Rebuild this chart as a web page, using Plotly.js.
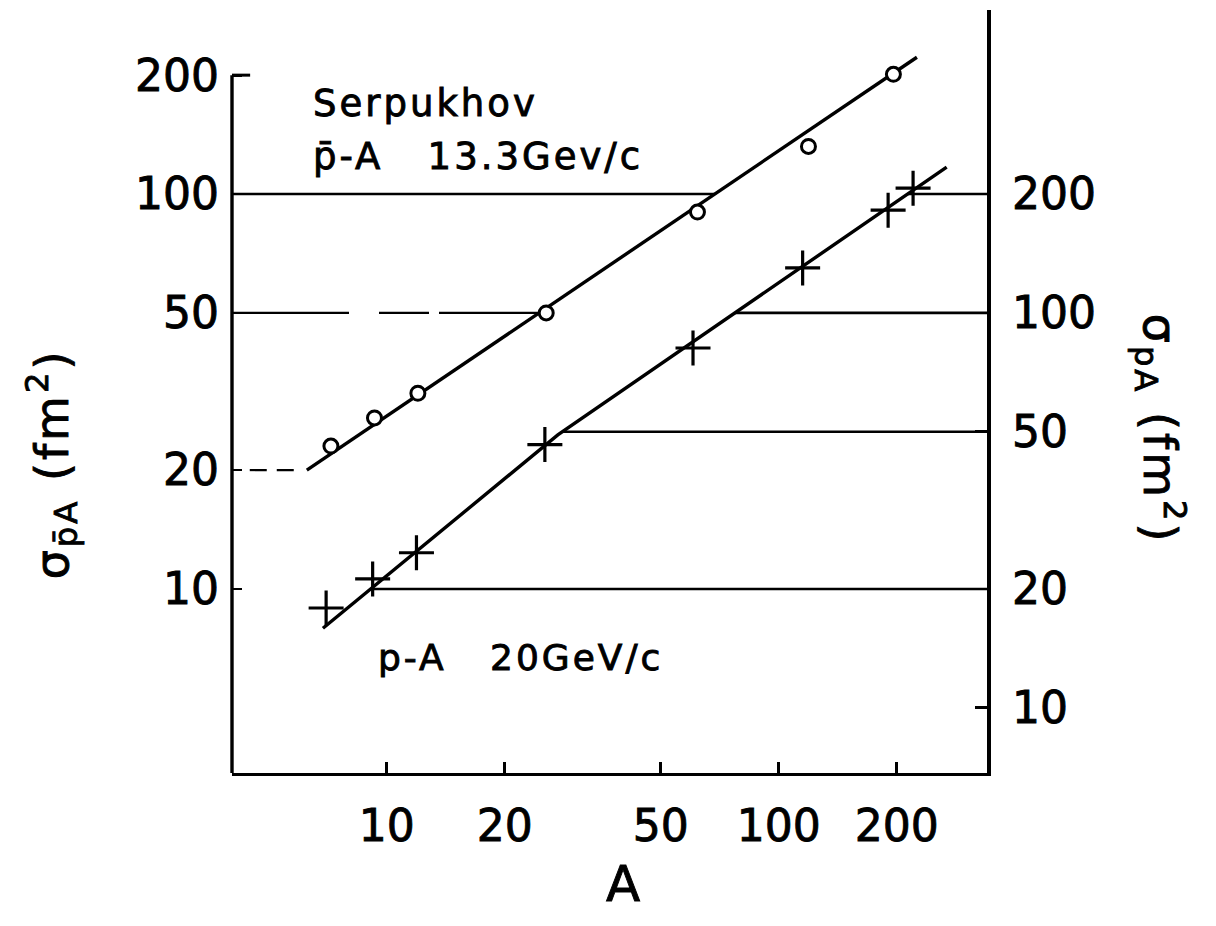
<!DOCTYPE html>
<html>
<head>
<meta charset="utf-8">
<script src="https://cdn.plot.ly/plotly-3.0.1.min.js"></script>
<style>
html,body{margin:0;padding:0;background:#fff;}
#chart{width:1216px;height:926px;}
.annotation-text{letter-spacing:3px;stroke:#000;stroke-width:0.9px;}
.xtick text,.ytick text,.y2tick text{stroke:#000;stroke-width:0.9px;}
</style>
</head>
<body>
<div id="chart"></div>
<script>
// ---- data ----
// antiproton-nucleus (open circles, left axis)
const A_pbar = [7.2, 9.3, 12.0, 25.5, 62, 119, 196];
const sigma_pbar = [23.0, 27.1, 31.3, 50.0, 90, 132, 201];
// hand-drawn line through the antiproton data (points along it)
const fitA_pbar = [6.25, 225];
const fitSigma_pbar = [20.0, 222];

// proton-nucleus (crosses, right axis)
const A_p = [7.0, 9.2, 11.9, 25.3, 60.4, 115, 190, 220];
const sigma_p = [17.9, 21.2, 24.7, 46.4, 81.5, 130, 182, 207];
// hand-drawn line through the proton data (points along it)
const fitA_p = [6.87, 27.3, 268];
const fitSigma_p = [15.9, 49.1, 234];

// tick values
const xTicks = [10, 20, 50, 100, 200];
const yLeftTicks = [10, 20, 50, 100, 200];
const yRightTicks = [10, 20, 50, 100, 200];

// horizontal guide lines of the original
const leftGuides = [100, 50];           // from left axis to antiproton line
const rightGuides = [200, 100, 50, 20]; // from proton line to right axis

// ---- axis ranges (log10) ----
const xRange = [0.605, 2.531];
const yRange = [0.534, 2.466];
const y2Range = [yRange[0] + Math.log10(2), yRange[1] + Math.log10(2)];
const xMin = Math.pow(10, xRange[0]);
const xMax = Math.pow(10, xRange[1]);

// where a log-log polyline reaches a horizontal level
function xAtLevel(fx, fy, level) {
  const L = Math.log10(level);
  for (let i = 0; i < fx.length - 1; i++) {
    const ly0 = Math.log10(fy[i]), ly1 = Math.log10(fy[i + 1]);
    if ((L - ly0) * (L - ly1) <= 0 || i === fx.length - 2) {
      const lx0 = Math.log10(fx[i]), lx1 = Math.log10(fx[i + 1]);
      const t = (L - ly0) / (ly1 - ly0);
      return Math.pow(10, lx0 + t * (lx1 - lx0));
    }
  }
}

const FONT = 'DejaVu Sans, Liberation Sans, sans-serif';
const traces = [];

// guide lines on the left scale
leftGuides.forEach(function (lv) {
  traces.push({
    x: [xMin, xAtLevel(fitA_pbar, fitSigma_pbar, lv)], y: [lv, lv],
    mode: 'lines', xaxis: 'x', yaxis: 'y', hoverinfo: 'skip', showlegend: false,
    line: {color: '#000', width: 2.4, dash: lv === 50 ? '117px,30px,50px,10px,400px' : 'solid'}
  });
});
// short dashed guide at 20 (left scale)
traces.push({
  x: [4.47, 5.89], y: [20, 20], mode: 'lines', xaxis: 'x', yaxis: 'y',
  hoverinfo: 'skip', showlegend: false, line: {color: '#000', width: 2.2, dash: '17px,10px'}
});
// longer tick at 200 (left scale)
traces.push({
  x: [xMin, 4.48], y: [200, 200], mode: 'lines', xaxis: 'x', yaxis: 'y',
  hoverinfo: 'skip', showlegend: false, line: {color: '#000', width: 3}
});

// guide lines on the right scale
rightGuides.forEach(function (lv) {
  traces.push({
    x: [xAtLevel(fitA_p, fitSigma_p, lv), xMax], y: [lv, lv],
    mode: 'lines', xaxis: 'x', yaxis: 'y2', hoverinfo: 'skip', showlegend: false,
    line: {color: '#000', width: 2.6}
  });
});

// drawn lines
traces.push({
  x: fitA_pbar, y: fitSigma_pbar, mode: 'lines', xaxis: 'x', yaxis: 'y',
  showlegend: false, line: {color: '#000', width: 3.4}
});
traces.push({
  x: fitA_p, y: fitSigma_p, mode: 'lines', xaxis: 'x', yaxis: 'y2',
  showlegend: false, line: {color: '#000', width: 3.4}
});

// data points
traces.push({
  x: A_pbar, y: sigma_pbar, mode: 'markers', xaxis: 'x', yaxis: 'y',
  name: 'p̄-A 13.3 GeV/c', showlegend: false,
  marker: {symbol: 'circle', size: 14, color: '#fff', line: {color: '#000', width: 3}}
});
traces.push({
  x: A_p, y: sigma_p, mode: 'markers', xaxis: 'x', yaxis: 'y2',
  name: 'p-A 20 GeV/c', showlegend: false,
  marker: {symbol: 'cross-thin', size: 25, color: '#000', line: {color: '#000', width: 3.2}}
});

// paper fraction of the 200 level on the left axis (where the left axis line starts)
const frac200 = (Math.log10(200) - yRange[0]) / (yRange[1] - yRange[0]);

const tickFont = {family: FONT, size: 44, color: '#000'};
const NB = '\u00a0';

const layout = {
  width: 1216, height: 926,
  margin: {l: 232, r: 229, t: 10, b: 153, pad: 0},
  paper_bgcolor: '#fff', plot_bgcolor: '#fff',
  showlegend: false,
  font: {family: FONT, color: '#000'},
  xaxis: {
    type: 'log', range: xRange, tickvals: xTicks, ticktext: xTicks.map(String),
    ticks: 'inside', ticklen: 11, tickwidth: 2.8, tickcolor: '#000',
    showline: true, linewidth: 3.4, linecolor: '#000', showgrid: false, zeroline: false,
    tickfont: tickFont, ticklabelstandoff: 12
  },
  yaxis: {
    type: 'log', range: yRange, tickvals: yLeftTicks, ticktext: yLeftTicks.map(String),
    ticks: 'inside', ticklen: 10, tickwidth: 2.8, tickcolor: '#000',
    showline: false, showgrid: false, zeroline: false,
    tickfont: tickFont, ticklabelstandoff: 12
  },
  yaxis2: {
    type: 'log', range: y2Range, overlaying: 'y', side: 'right',
    tickvals: yRightTicks, ticktext: yRightTicks.map(String),
    ticks: 'inside', ticklen: 12, tickwidth: 2.8, tickcolor: '#000',
    showline: true, linewidth: 4.2, linecolor: '#000', showgrid: false, zeroline: false,
    tickfont: tickFont, ticklabelstandoff: 12
  },
  shapes: [
    {type: 'line', xref: 'paper', yref: 'paper', x0: 0, x1: 0, y0: 0, y1: frac200,
     line: {color: '#000', width: 3.4}}
  ],
  annotations: [
    {text: 'Serpukhov', xref: 'paper', yref: 'paper', x: 0.104, y: 0.877,
     xanchor: 'left', yanchor: 'middle', showarrow: false,
     font: {family: FONT, size: 37, color: '#000'}},
    {text: 'p\u0304-A' + NB + NB + NB + '13.3Gev/c', xref: 'paper', yref: 'paper', x: 0.104, y: 0.808,
     xanchor: 'left', yanchor: 'middle', showarrow: false,
     font: {family: FONT, size: 37, color: '#000'}},
    {text: 'p-A' + NB + NB + NB + '20GeV/c', xref: 'paper', yref: 'paper', x: 0.191, y: 0.152,
     xanchor: 'left', yanchor: 'middle', showarrow: false,
     font: {family: FONT, size: 36, color: '#000'}},
    {text: 'σ<sub>p\u0304A</sub> (fm<sup>2</sup>)', xref: 'paper', yref: 'paper',
     x: -0.238, y: 0.405, xanchor: 'center', yanchor: 'middle', textangle: -90, showarrow: false,
     font: {family: FONT, size: 46, color: '#000'}},
    {text: 'σ<sub>pA</sub> (fm<sup>2</sup>)', xref: 'paper', yref: 'paper',
     x: 1.229, y: 0.450, xanchor: 'center', yanchor: 'middle', textangle: 90, showarrow: false,
     font: {family: FONT, size: 46, color: '#000'}},
    {text: 'A', xref: 'paper', yref: 'paper', x: 0.520, y: -0.145,
     xanchor: 'center', yanchor: 'middle', showarrow: false,
     font: {family: FONT, size: 50, color: '#000'}}
  ]
};

Plotly.newPlot('chart', traces, layout, {staticPlot: true, displayModeBar: false});
</script>
</body>
</html>
